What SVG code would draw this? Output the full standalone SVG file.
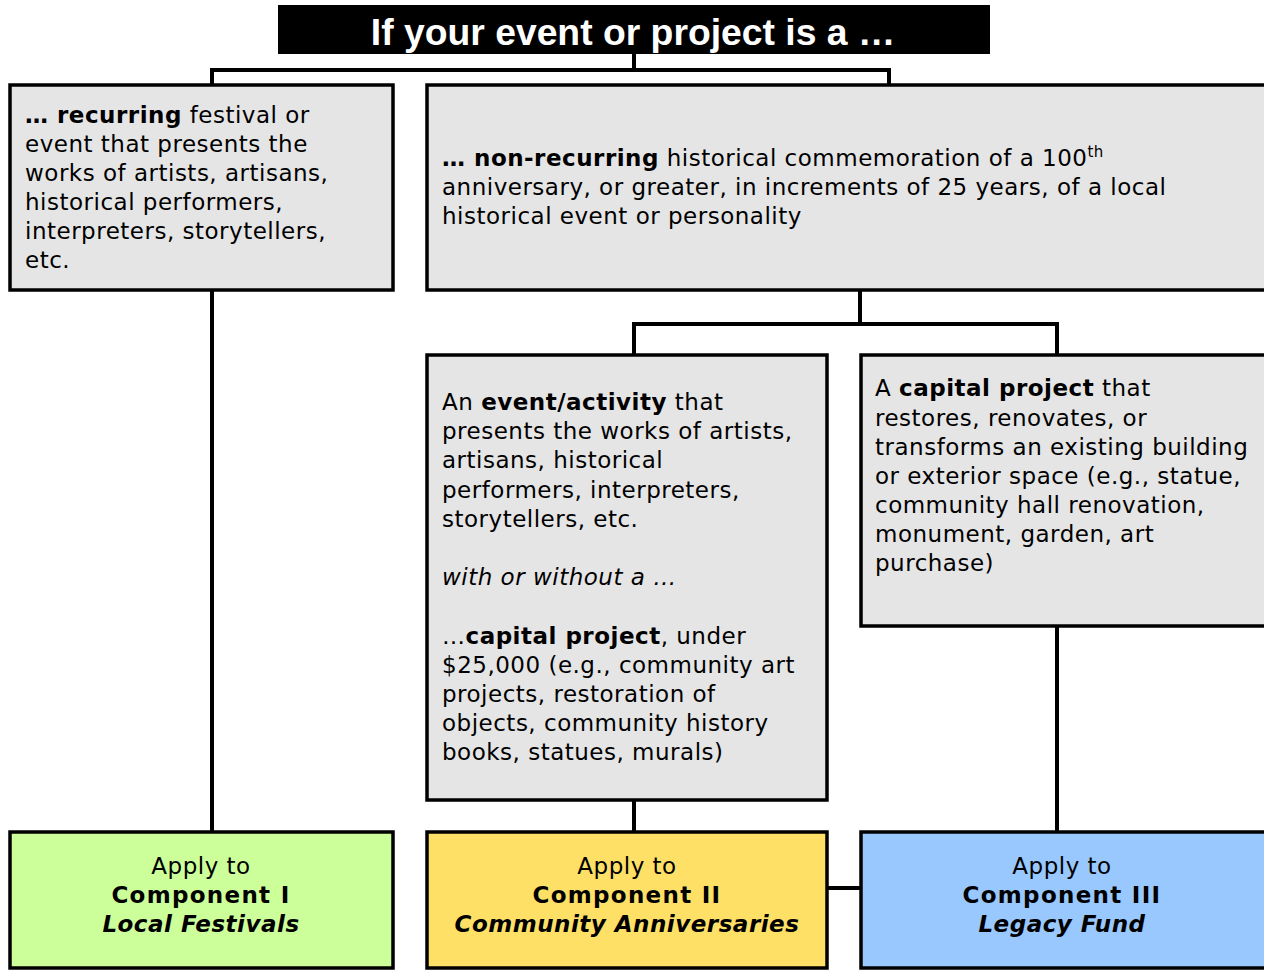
<svg xmlns="http://www.w3.org/2000/svg" width="1264" height="971" viewBox="0 0 1264 971">
<style>
.box{stroke:#000;stroke-width:3.5}
.g{fill:#e5e5e5}
.t{font-family:"DejaVu Sans",Verdana,sans-serif;font-size:23px;letter-spacing:0.5px;fill:#000}
.c{text-anchor:middle}
.b{font-weight:bold}
.i{font-style:italic}
.cp{letter-spacing:1.3px}
.ln{stroke:#000;stroke-width:4;fill:none}
</style>
<rect width="1264" height="971" fill="#fff"/>
<g id="connectors">
<path class="ln" d="M634 54V70M212 70H889M212 68V86M889 68V86"/>
<path class="ln" d="M860 290V324M634 324H1057M634 322V356M1057 322V356"/>
<path class="ln" d="M212 290V832M634 800V832M1057 626V832M827 888H861"/>
</g>
<g id="title">
<rect x="278" y="5" width="712" height="49" fill="#000"/>
<text x="633" y="45" fill="#fff" font-family="Liberation Sans,Arial,sans-serif" font-weight="bold" font-size="37.3" text-anchor="middle">If your event or project is a …</text>
</g>
<g id="recurring">
<rect class="box g" x="10" y="85" width="383" height="205"/>
<text class="t" x="25"><tspan x="25" y="123"><tspan class="b">… recurring</tspan> festival or</tspan><tspan x="25" y="152">event that presents the</tspan><tspan x="25" y="181">works of artists, artisans,</tspan><tspan x="25" y="210">historical performers,</tspan><tspan x="25" y="239">interpreters, storytellers,</tspan><tspan x="25" y="268">etc.</tspan></text>
</g>
<g id="nonrecurring">
<rect class="box g" x="427" y="85" width="840" height="205"/>
<text class="t"><tspan x="442" y="166"><tspan class="b">… non-recurring</tspan> historical commemoration of a 100</tspan><tspan font-size="15" dy="-9">th</tspan><tspan x="442" y="195">anniversary, or greater, in increments of 25 years, of a local</tspan><tspan x="442" y="224">historical event or personality</tspan></text>
</g>
<g id="event">
<rect class="box g" x="427" y="355" width="400" height="445"/>
<text class="t"><tspan x="442" y="410">An <tspan class="b">event/activity</tspan> that</tspan><tspan x="442" y="439">presents the works of artists,</tspan><tspan x="442" y="468">artisans, historical</tspan><tspan x="442" y="498">performers, interpreters,</tspan><tspan x="442" y="527">storytellers, etc.</tspan><tspan x="442" y="585" class="i">with or without a …</tspan><tspan x="442" y="644">…<tspan class="b">capital project</tspan>, under</tspan><tspan x="442" y="673">$25,000 (e.g., community art</tspan><tspan x="442" y="702">projects, restoration of</tspan><tspan x="442" y="731">objects, community history</tspan><tspan x="442" y="760">books, statues, murals)</tspan></text>
</g>
<g id="capital">
<rect class="box g" x="861" y="355" width="406" height="271"/>
<text class="t"><tspan x="875" y="396">A <tspan class="b">capital project</tspan> that</tspan><tspan x="875" y="426">restores, renovates, or</tspan><tspan x="875" y="455">transforms an existing building</tspan><tspan x="875" y="484">or exterior space (e.g., statue,</tspan><tspan x="875" y="513">community hall renovation,</tspan><tspan x="875" y="542">monument, garden, art</tspan><tspan x="875" y="571">purchase)</tspan></text>
</g>
<g id="comp1">
<rect class="box" x="10" y="832" width="383" height="136" fill="#ccff99"/>
<text class="t c"><tspan x="201" y="874">Apply to</tspan><tspan x="201" y="903" class="b cp">Component I</tspan><tspan x="201" y="932" class="b i">Local Festivals</tspan></text>
</g>
<g id="comp2">
<rect class="box" x="427" y="832" width="400" height="136" fill="#ffe066"/>
<text class="t c"><tspan x="627" y="874">Apply to</tspan><tspan x="627" y="903" class="b cp">Component II</tspan><tspan x="627" y="932" class="b i">Community Anniversaries</tspan></text>
</g>
<g id="comp3">
<rect class="box" x="861" y="832" width="406" height="136" fill="#99c8ff"/>
<text class="t c"><tspan x="1062" y="874">Apply to</tspan><tspan x="1062" y="903" class="b cp">Component III</tspan><tspan x="1062" y="932" class="b i">Legacy Fund</tspan></text>
</g>
</svg>
